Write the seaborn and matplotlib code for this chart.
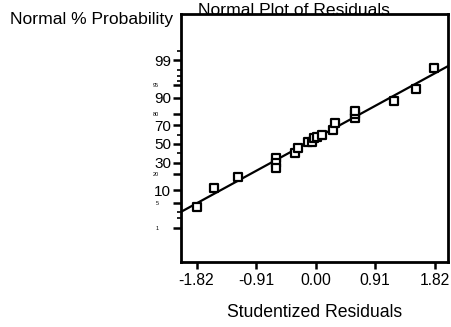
from statistics import NormalDist

import numpy as np
import matplotlib
matplotlib.use("Agg")
import matplotlib.pyplot as plt
import seaborn as sns

# studentized residuals and their normal % probability
residuals = [-1.82, -1.55, -1.19, -0.60, -0.60, -0.60, -0.31, -0.27, -0.11,
             -0.05, -0.03, 0.02, 0.09, 0.26, 0.30, 0.60, 0.60, 0.60,
             1.20, 1.54, 1.81]
probability = [4.1, 11.3, 17.8, 34.6, 29.6, 25.6, 39.8, 45.9, 52.2,
               52.5, 56.3, 58.0, 59.5, 65.1, 71.7, 76.2, 79.7, 82.2,
               88.5, 93.6, 98.2]

x_ticks = [-1.82, -0.91, 0.00, 0.91, 1.82]
y_tick_pct = [1, 5, 10, 20, 30, 50, 70, 80, 90, 95, 99]
y_big_labels = [10, 30, 50, 70, 90, 99]
y_minor_pct = [2, 3, 40, 60, 96, 97, 98, 99.5]

nd = NormalDist()


def probit(p):
    return nd.inv_cdf(p / 100.0)


def main():
    sns.set_theme(style="white")
    plt.rcParams["font.family"] = ["Liberation Sans", "DejaVu Sans"]

    z = [probit(p) for p in probability]

    fig = plt.figure(figsize=(4.51, 3.27), dpi=100)
    ax = fig.add_axes([0.401, 0.199, 0.592, 0.758])

    xlim = (-2.06, 2.02)
    ylim = (-3.27, 3.6)

    # fitted reference line
    slope, intercept = np.polyfit(residuals, z, 1)
    line_x = np.array(xlim)
    ax.plot(line_x, slope * line_x + intercept, color="black", lw=1.6, zorder=2)

    sns.scatterplot(x=residuals, y=z, ax=ax, marker="s", s=28,
                    facecolor="white", edgecolor="black", linewidth=1.6,
                    zorder=3)

    ax.set_xlim(xlim)
    ax.set_ylim(ylim)

    ax.set_xticks(x_ticks)
    ax.set_xticklabels([f"{t:.2f}" for t in x_ticks], fontsize=11.3)

    ax.set_yticks([probit(p) for p in y_tick_pct])
    ax.set_yticklabels([str(p) for p in y_tick_pct])
    for tick, p in zip(ax.yaxis.get_major_ticks(), y_tick_pct):
        if p in y_big_labels:
            tick.label1.set_fontsize(11)
            tick.set_pad(1)
        else:
            tick.label1.set_fontsize(4)
            tick.set_pad(10)
    ax.set_yticks([probit(p) for p in y_minor_pct], minor=True)

    ax.tick_params(axis="both", which="major", direction="out", length=6,
                   width=1.8, color="black", labelcolor="black",
                   left=True, bottom=True)
    ax.tick_params(axis="y", which="minor", direction="out", length=3,
                   width=1.2, color="black", left=True)
    ax.tick_params(axis="x", which="major", length=5, pad=3)

    for spine in ax.spines.values():
        spine.set_color("black")
        spine.set_linewidth(2)

    ax.set_xlabel("")
    ax.set_ylabel("")
    fig.text(0.697, 0.043, "Studentized Residuals", ha="center", va="center",
             fontsize=12.7, color="black")
    fig.text(0.022, 0.939, "Normal % Probability", ha="left", va="center",
             fontsize=12.6, color="black")
    fig.text(0.652, 0.969, "Normal Plot of Residuals", ha="center",
             va="center", fontsize=12.6, color="black")

    fig.savefig("out.png", dpi=100)
    plt.close(fig)


if __name__ == "__main__":
    main()
